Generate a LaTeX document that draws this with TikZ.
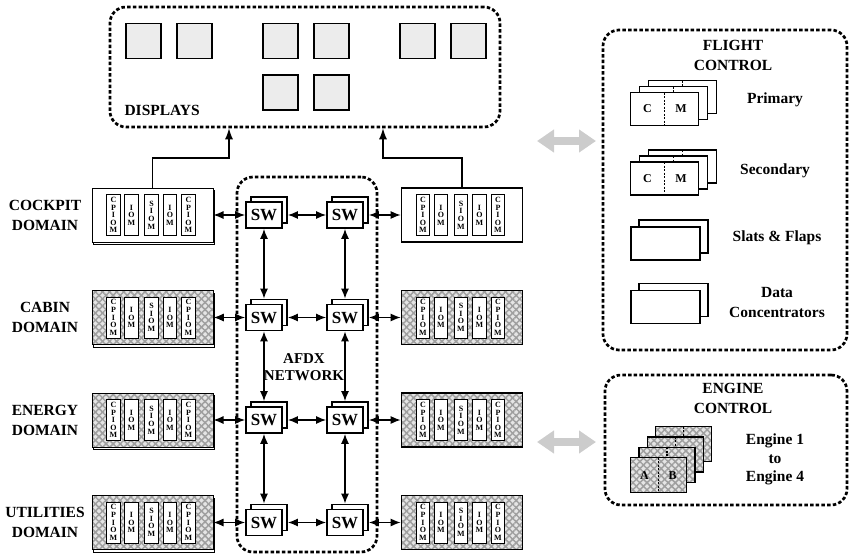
\documentclass[tikz,border=0pt]{standalone}
\usepackage{fontspec}
\setmainfont{Liberation Serif}
\usetikzlibrary{arrows.meta, positioning, shadows, patterns.meta}

\begin{document}
\begin{tikzpicture}[x=1pt, y=-1pt,
  font=\bfseries\fontsize{15.5}{20}\selectfont,
  grp/.style={draw, line width=2.7pt, dash pattern=on 3.5pt off 2.2pt, rounded corners=16pt, inner sep=0pt},
  disp/.style={draw, line width=1.3pt, fill=gray!15, minimum size=35pt, inner sep=0pt},
  hatch/.style={preaction={fill=gray!20},
                preaction={pattern={Lines[angle=45, distance=5pt, line width=1.5pt]}, pattern color=gray!75},
                pattern={Lines[angle=-45, distance=5pt, line width=1.5pt]}, pattern color=gray!75},
  cab/.style={draw, minimum width=121pt, minimum height=54pt, inner sep=0pt},
  cabw/.style={fill=white},
  cabh/.style={hatch},
  lcab/.style={line width=1pt, copy shadow={shadow xshift=1pt, shadow yshift=-2.5pt, draw, fill=white, line width=1pt}},
  rcab/.style={line width=1.8pt},
  slot/.style={draw, line width=0.9pt, fill=white, minimum width=13.5pt, minimum height=41pt, inner sep=0pt,
               align=center, font=\bfseries\fontsize{8}{7.6}\selectfont},
  sw/.style={draw, line width=1.9pt, fill=white, minimum width=36pt, minimum height=26pt, inner sep=0pt,
             font=\bfseries\fontsize{17}{18}\selectfont,
             copy shadow={shadow xshift=5pt, shadow yshift=5pt, draw, fill=white, line width=1.6pt}},
  arr/.style={{Latex[length=10pt,width=8pt]}-{Latex[length=10pt,width=8pt]}, line width=1.1pt},
  uparr/.style={-{Latex[length=11pt,width=8pt]}, line width=1.1pt},
  gry/.style={{Triangle[length=17pt,width=22pt]}-{Triangle[length=17pt,width=22pt]}, line width=8pt, draw=gray!40},
  cmbox/.style={draw, line width=1.1pt, fill=white, minimum width=68pt, minimum height=33pt, inner sep=0pt,
             path picture={\draw[line width=1.1pt, dash pattern=on 2pt off 1.5pt]
               (path picture bounding box.north) -- (path picture bounding box.south);}},
  plainbox/.style={draw, line width=1.1pt, fill=white, minimum width=69pt, minimum height=33pt, inner sep=0pt},
  engbox/.style={draw, line width=1.3pt, hatch, minimum width=56pt, minimum height=35pt, inner sep=0pt,
              path picture={\draw[line width=1.3pt, dash pattern=on 2pt off 1.5pt]
                (path picture bounding box.north) -- (path picture bounding box.south);}},
  smalltxt/.style={font=\bfseries\fontsize{12}{13}\selectfont}
]
  \useasboundingbox (0,0) rectangle (849,557);

  % Displays
  \node[grp, minimum width=390pt, minimum height=120pt] (displays) at (305,67) {};
  \foreach \x/\y [count=\i] in {143.5/41, 194.5/41, 280.5/41, 331.5/41, 417.5/41, 468.5/41, 280.5/92.5, 331.5/92.5}
    \node[disp] (d\i) at (\x,\y) {};
  \node[anchor=west] (displbl) at (121,110) {DISPLAYS};

  % AFDX network
  \node[grp, minimum width=140pt, minimum height=375pt] (afdx) at (307,364.5) {};
  \node[align=center, font=\bfseries\fontsize{15}{17}\selectfont] (afdxlbl) at (304,367) {AFDX\\NETWORK};

  % Domains, cabinets and switches
  \foreach \y/\dom/\st [count=\r] in {215/COCKPIT/cabw, 317.5/CABIN/cabh, 420/ENERGY/cabh, 522.5/UTILITIES/cabh} {
    \node[align=center] (dom\r) at (45,\y) {\dom\\DOMAIN};
    \node[cab, lcab, \st] (cabL\r) at (152.5,\y) {};
    \node[cab, rcab, \st] (cabR\r) at (462,\y) {};
    \foreach \s in {L,R}
      \foreach \dx/\m [count=\k] in {-39/{C\\P\\I\\O\\M}, -21/{I\\O\\M}, -1/{S\\I\\O\\M}, 17.5/{I\\O\\M}, 36/{C\\P\\I\\O\\M}}
        \node[slot] (cab\s\r m\k) at ([xshift=\dx pt]cab\s\r.center) {\m};
    \node[sw] (swL\r) at (264,\y) {SW};
    \node[sw] (swR\r) at (345,\y) {SW};
    \draw[arr] (cabL\r) -- (swL\r);
    \draw[arr] ([xshift=5pt]swL\r.east) -- (swR\r);
    \draw[arr] ([xshift=5pt]swR\r.east) -- (cabR\r);
  }
  \foreach \r [evaluate=\r as \n using int(\r+1)] in {1,2,3} {
    \draw[arr] (swL\r.south) -- ([yshift=5pt]swL\n.north);
    \draw[arr] (swR\r.south) -- ([yshift=5pt]swR\n.north);
  }

  % Cockpit to displays
  \coordinate (jl) at (229,158);
  \coordinate (jr) at (383,158);
  \draw[uparr] (cabL1.north) |- (jl) -- (jl |- displays.south);
  \draw[uparr] (cabR1.north) |- (jr) -- (jr |- displays.south);

  % Links to flight and engine control
  \coordinate (ga1) at (537,141);
  \coordinate (gb1) at (596,141);
  \coordinate (ga2) at (537,442);
  \coordinate (gb2) at (596,442);
  \draw[gry] (ga1) -- (gb1);
  \draw[gry] (ga2) -- (gb2);

  % Flight control
  \node[grp, minimum width=244pt, minimum height=320pt] (flight) at (725,190) {};
  \node[align=center] (flightlbl) at (733,55) {FLIGHT\\CONTROL};
  \foreach \y/\lbl/\ly [count=\i] in {109/Primary/100, 178.5/Secondary/171} {
    \foreach \k in {2,1}
      \node[cmbox] (fc\i b\k) at (664.5+9*\k, \y-6*\k) {};
    \node[cmbox] (fc\i) at (664.5,\y) {};
    \node[smalltxt] (fc\i c) at (647.5,\y) {C};
    \node[smalltxt] (fc\i m) at (681,\y) {M};
    \node (fc\i lbl) at (775,\ly) {\lbl};
  }
  \node[plainbox] (slatsb) at (673.5,236.5) {};
  \node[plainbox] (slats) at (665.5,243.5) {};
  \node (slatslbl) at (777,238) {Slats \& Flaps};
  \node[plainbox] (datab) at (673.5,300) {};
  \node[plainbox] (data) at (665.5,307) {};
  \node[align=center] (datalbl) at (777,302) {Data\\Concentrators};

  % Engine control
  \node[grp, minimum width=242pt, minimum height=130pt] (engine) at (726,440) {};
  \node[align=center] (enginelbl) at (733,398.5) {ENGINE\\CONTROL};
  \foreach \k in {3,2,1,0}
    \node[engbox] (eng\k) at (658.7+8.3*\k, 475-10.3*\k) {};
  \node[smalltxt] (enga) at (644.5,476) {A};
  \node[smalltxt] (engb) at (672.5,476) {B};
  \node[align=center, font=\bfseries\fontsize{15.5}{18.5}\selectfont] (englbl) at (775,459.5) {Engine 1\\to\\Engine 4};
\end{tikzpicture}
\end{document}
